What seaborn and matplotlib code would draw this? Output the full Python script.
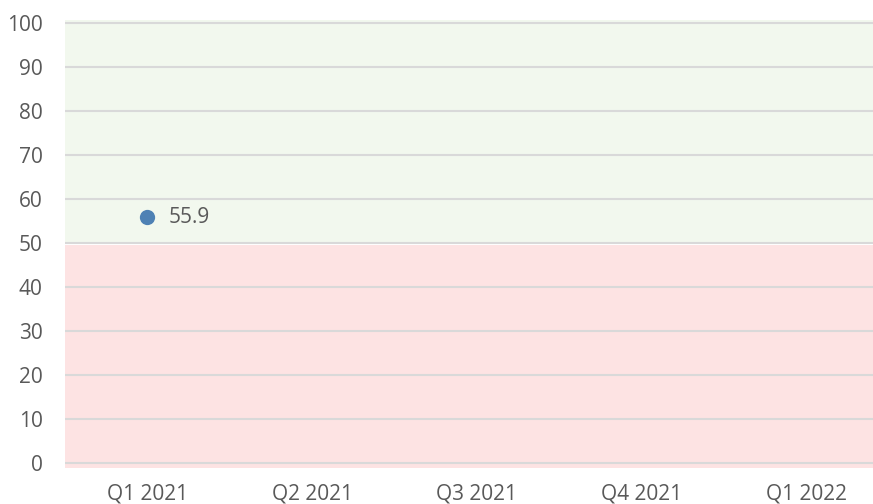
import matplotlib
matplotlib.use("Agg")
import matplotlib.pyplot as plt
import seaborn as sns
import numpy as np
import pandas as pd

# data
quarters = ["Q1 2021", "Q2 2021", "Q3 2021", "Q4 2021", "Q1 2022"]
scores = [55.9, np.nan, np.nan, np.nan, np.nan]
y_ticks = list(range(0, 101, 10))

TEXT = "#595959"
GREEN_BG = "#F2F8EE"
RED_BG = "#FDE3E3"
GRID = "#D9D9D9"
DOT = "#4E81B4"

sns.set_style("white")
plt.rcParams["font.family"] = ["Open Sans", "DejaVu Sans"]

df = pd.DataFrame({"quarter": quarters, "score": scores})

fig = plt.figure(figsize=(8.73, 5.04), dpi=100)
# plot area runs past the right edge, as in the reference
ax = fig.add_axes([65 / 873, 36 / 504, 824 / 873, 448 / 504])

# zones: good above 50, bad below
ax.axhspan(50, 101, color=GREEN_BG, lw=0, zorder=0)
ax.axhspan(-2, 49.6, color=RED_BG, lw=0, zorder=0)
for t in y_ticks:
    ax.axhline(t, color=GRID, lw=1.5, zorder=1)

sns.stripplot(data=df, x="quarter", y="score", order=quarters, jitter=False,
              color=DOT, size=11, ax=ax, zorder=3)

for i, v in enumerate(scores):
    if not np.isnan(v):
        ax.annotate(f"{v:.1f}", (i, v), xytext=(15, 0), textcoords="offset points",
                    va="center", ha="left", fontsize=15, color=TEXT)

ax.set_xlim(-0.5, 4.5)
ax.set_ylim(-1.14, 100.68)
ax.set_yticks(y_ticks)
ax.set_xlabel("")
ax.set_ylabel("")
ax.tick_params(axis="both", length=0, labelsize=15, labelcolor=TEXT)
ax.tick_params(axis="y", pad=16)
ax.tick_params(axis="x", pad=11)
for s in ax.spines.values():
    s.set_visible(False)

fig.savefig("out.png", dpi=100)
